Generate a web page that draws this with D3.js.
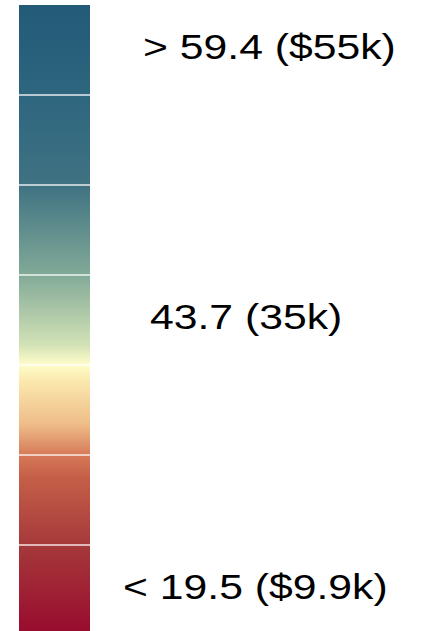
<!DOCTYPE html>
<html><head><meta charset="utf-8">
<script src="https://cdn.jsdelivr.net/npm/d3@7"></script>
<style>html,body{margin:0;padding:0;background:#fff;}svg{display:block;}</style>
</head><body>
<svg id="c" width="421" height="631"></svg>
<script>
const segments = ["s1","s2","s3","s4","s5","s6","s7"];
const stopOffsets = [0, 0.143, 0.286, 0.429, 0.54, 0.571, 0.6, 0.667, 0.714, 0.75, 0.857, 1];
const stopColors = ["#225a78","#2e667f","#3f7282","#82aa98","#d3e2b6","#fffdca","#fae6ab","#eebb88","#d67a58","#c55f48","#a5393a","#980a2e"];
const labels = ["> 59.4 ($55k)", "43.7 (35k)", "< 19.5 ($9.9k)"];
const labelSegments = ["s1","s4","s7"];
const labelX = [143, 150, 123];

const svg = d3.select("#c");
const y = d3.scaleBand().domain(segments).range([5, 635]).padding(0);
const x0 = 19, x1 = 90;

const defs = svg.append("defs");
const grad = defs.append("linearGradient").attr("id","g").attr("x1",0).attr("y1",0).attr("x2",0).attr("y2",1);
grad.selectAll("stop").data(stopOffsets).join("stop")
  .attr("offset", d => d).attr("stop-color", (d,i) => stopColors[i]);

svg.append("rect").attr("x", x0).attr("y", y.range()[0]).attr("width", x1 - x0)
  .attr("height", y.range()[1] - y.range()[0]).attr("fill","url(#g)");

svg.selectAll("line.sep").data(segments.slice(1)).join("line").attr("class","sep")
  .attr("x1", x0).attr("x2", x1).attr("y1", d => y(d)).attr("y2", d => y(d))
  .attr("stroke","#fff").attr("stroke-opacity",0.65).attr("stroke-width",2);

svg.selectAll("text.lab").data(labels).join("text").attr("class","lab")
  .attr("transform", (d,i) => `translate(${labelX[i]},${y(labelSegments[i]) + y.bandwidth()/2 + 8.5}) scale(1.22,1)`)
  .attr("font-family","'Liberation Sans', Arial, sans-serif").attr("font-size",35)
  .attr("fill","#000").text(d => d);
</script>
</body></html>
